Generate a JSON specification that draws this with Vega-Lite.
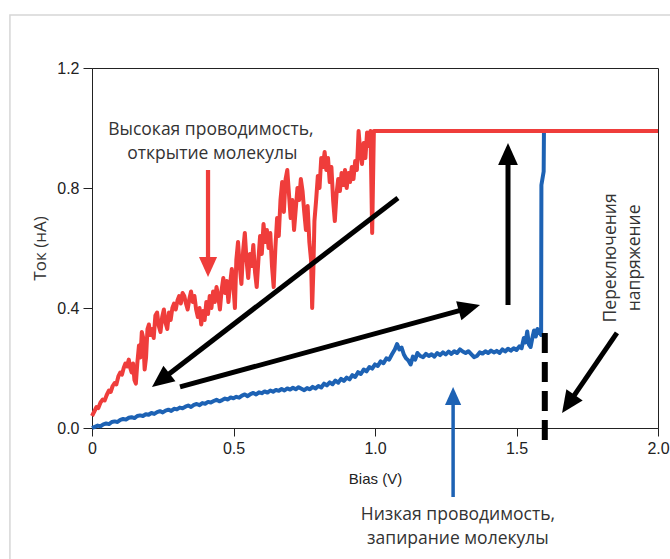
{
  "$schema": "https://vega.github.io/schema/vega-lite/v6.json",
  "width": 566,
  "height": 360,
  "autosize": {"type": "none"},
  "padding": {"left": 92, "top": 68, "right": 12, "bottom": 131},
  "background": "white",
  "config": {"view": {"stroke": "#222", "strokeWidth": 1}},
  "datasets": {
    "frame": [{"x": -0.29, "y": 1.377, "x2": 2.1, "y2": -0.5}],
    "red": [
      {"x":0.000,"y":0.040},{"x":0.008,"y":0.055},{"x":0.016,"y":0.070},{"x":0.022,"y":0.066},{"x":0.030,"y":0.085},
      {"x":0.038,"y":0.095},{"x":0.045,"y":0.092},{"x":0.052,"y":0.110},{"x":0.060,"y":0.125},{"x":0.066,"y":0.120},
      {"x":0.073,"y":0.140},{"x":0.080,"y":0.150},{"x":0.086,"y":0.145},{"x":0.093,"y":0.172},{"x":0.100,"y":0.185},
      {"x":0.106,"y":0.178},{"x":0.112,"y":0.200},{"x":0.118,"y":0.215},{"x":0.124,"y":0.205},{"x":0.130,"y":0.228},
      {"x":0.135,"y":0.200},{"x":0.140,"y":0.185},{"x":0.145,"y":0.215},{"x":0.150,"y":0.160},{"x":0.155,"y":0.148},
      {"x":0.160,"y":0.215},{"x":0.166,"y":0.275},{"x":0.171,"y":0.235},{"x":0.176,"y":0.320},{"x":0.181,"y":0.300},
      {"x":0.186,"y":0.195},{"x":0.191,"y":0.235},{"x":0.196,"y":0.330},{"x":0.201,"y":0.345},{"x":0.206,"y":0.310},
      {"x":0.212,"y":0.330},{"x":0.218,"y":0.300},{"x":0.224,"y":0.375},{"x":0.230,"y":0.385},{"x":0.236,"y":0.340},
      {"x":0.242,"y":0.320},{"x":0.248,"y":0.370},{"x":0.254,"y":0.395},{"x":0.260,"y":0.350},{"x":0.266,"y":0.330},
      {"x":0.272,"y":0.385},{"x":0.278,"y":0.360},{"x":0.284,"y":0.400},{"x":0.290,"y":0.415},{"x":0.296,"y":0.395},
      {"x":0.302,"y":0.425},{"x":0.308,"y":0.440},{"x":0.314,"y":0.415},{"x":0.320,"y":0.450},{"x":0.326,"y":0.440},
      {"x":0.332,"y":0.415},{"x":0.338,"y":0.395},{"x":0.344,"y":0.430},{"x":0.350,"y":0.455},{"x":0.356,"y":0.420},
      {"x":0.362,"y":0.440},{"x":0.368,"y":0.395},{"x":0.374,"y":0.370},{"x":0.380,"y":0.400},{"x":0.386,"y":0.345},
      {"x":0.392,"y":0.390},{"x":0.398,"y":0.360},{"x":0.404,"y":0.420},{"x":0.410,"y":0.380},{"x":0.416,"y":0.440},
      {"x":0.422,"y":0.400},{"x":0.428,"y":0.455},{"x":0.434,"y":0.420},{"x":0.440,"y":0.470},{"x":0.446,"y":0.440},
      {"x":0.452,"y":0.395},{"x":0.458,"y":0.460},{"x":0.464,"y":0.500},{"x":0.470,"y":0.450},{"x":0.476,"y":0.490},
      {"x":0.482,"y":0.420},{"x":0.488,"y":0.480},{"x":0.494,"y":0.530},{"x":0.500,"y":0.470},{"x":0.505,"y":0.400},
      {"x":0.510,"y":0.560},{"x":0.516,"y":0.620},{"x":0.522,"y":0.540},{"x":0.528,"y":0.480},{"x":0.534,"y":0.590},
      {"x":0.540,"y":0.650},{"x":0.546,"y":0.560},{"x":0.552,"y":0.500},{"x":0.558,"y":0.580},{"x":0.564,"y":0.540},
      {"x":0.570,"y":0.610},{"x":0.576,"y":0.520},{"x":0.582,"y":0.470},{"x":0.588,"y":0.560},{"x":0.594,"y":0.640},
      {"x":0.600,"y":0.580},{"x":0.606,"y":0.680},{"x":0.612,"y":0.620},{"x":0.618,"y":0.660},{"x":0.624,"y":0.600},
      {"x":0.630,"y":0.650},{"x":0.636,"y":0.540},{"x":0.642,"y":0.470},{"x":0.648,"y":0.600},{"x":0.654,"y":0.700},
      {"x":0.660,"y":0.640},{"x":0.666,"y":0.760},{"x":0.672,"y":0.820},{"x":0.678,"y":0.720},{"x":0.684,"y":0.830},
      {"x":0.690,"y":0.860},{"x":0.696,"y":0.780},{"x":0.702,"y":0.700},{"x":0.708,"y":0.760},{"x":0.714,"y":0.660},
      {"x":0.720,"y":0.730},{"x":0.726,"y":0.800},{"x":0.732,"y":0.760},{"x":0.738,"y":0.830},{"x":0.744,"y":0.790},
      {"x":0.750,"y":0.720},{"x":0.756,"y":0.660},{"x":0.762,"y":0.740},{"x":0.768,"y":0.620},{"x":0.774,"y":0.560},
      {"x":0.778,"y":0.400},{"x":0.782,"y":0.520},{"x":0.786,"y":0.690},{"x":0.792,"y":0.760},{"x":0.798,"y":0.840},
      {"x":0.804,"y":0.800},{"x":0.810,"y":0.900},{"x":0.816,"y":0.870},{"x":0.822,"y":0.920},{"x":0.828,"y":0.860},
      {"x":0.834,"y":0.900},{"x":0.840,"y":0.820},{"x":0.846,"y":0.870},{"x":0.852,"y":0.760},{"x":0.858,"y":0.690},
      {"x":0.864,"y":0.780},{"x":0.870,"y":0.830},{"x":0.876,"y":0.790},{"x":0.882,"y":0.850},{"x":0.888,"y":0.810},
      {"x":0.894,"y":0.860},{"x":0.900,"y":0.800},{"x":0.906,"y":0.850},{"x":0.912,"y":0.820},{"x":0.918,"y":0.870},
      {"x":0.924,"y":0.830},{"x":0.930,"y":0.890},{"x":0.936,"y":0.860},{"x":0.942,"y":0.990},{"x":0.948,"y":0.920},
      {"x":0.954,"y":0.880},{"x":0.960,"y":0.950},{"x":0.966,"y":0.900},{"x":0.972,"y":0.985},{"x":0.978,"y":0.940},
      {"x":0.984,"y":0.990},{"x":0.990,"y":0.650},{"x":0.996,"y":0.990},{"x":2.000,"y":0.990}
    ],
    "blue": [
      {"x":0.000,"y":0.000},{"x":0.010,"y":0.004},{"x":0.020,"y":0.008},{"x":0.030,"y":0.006},{"x":0.040,"y":0.012},
      {"x":0.050,"y":0.015},{"x":0.060,"y":0.013},{"x":0.070,"y":0.020},{"x":0.080,"y":0.022},{"x":0.090,"y":0.020},
      {"x":0.100,"y":0.027},{"x":0.110,"y":0.030},{"x":0.120,"y":0.028},{"x":0.130,"y":0.034},{"x":0.140,"y":0.036},
      {"x":0.150,"y":0.033},{"x":0.160,"y":0.040},{"x":0.170,"y":0.042},{"x":0.180,"y":0.040},{"x":0.190,"y":0.046},
      {"x":0.200,"y":0.044},{"x":0.210,"y":0.050},{"x":0.220,"y":0.047},{"x":0.230,"y":0.053},{"x":0.240,"y":0.056},
      {"x":0.250,"y":0.052},{"x":0.260,"y":0.058},{"x":0.270,"y":0.061},{"x":0.280,"y":0.057},{"x":0.290,"y":0.064},
      {"x":0.300,"y":0.062},{"x":0.310,"y":0.068},{"x":0.320,"y":0.066},{"x":0.330,"y":0.071},{"x":0.340,"y":0.075},
      {"x":0.350,"y":0.070},{"x":0.360,"y":0.077},{"x":0.370,"y":0.080},{"x":0.380,"y":0.076},{"x":0.390,"y":0.083},
      {"x":0.400,"y":0.081},{"x":0.410,"y":0.087},{"x":0.420,"y":0.085},{"x":0.430,"y":0.090},{"x":0.440,"y":0.094},
      {"x":0.450,"y":0.089},{"x":0.460,"y":0.093},{"x":0.470,"y":0.098},{"x":0.480,"y":0.095},{"x":0.490,"y":0.102},
      {"x":0.500,"y":0.099},{"x":0.510,"y":0.104},{"x":0.520,"y":0.101},{"x":0.530,"y":0.108},{"x":0.540,"y":0.112},
      {"x":0.550,"y":0.106},{"x":0.560,"y":0.113},{"x":0.570,"y":0.117},{"x":0.580,"y":0.112},{"x":0.590,"y":0.119},
      {"x":0.600,"y":0.116},{"x":0.610,"y":0.122},{"x":0.620,"y":0.118},{"x":0.630,"y":0.125},{"x":0.640,"y":0.121},
      {"x":0.650,"y":0.127},{"x":0.660,"y":0.124},{"x":0.670,"y":0.130},{"x":0.680,"y":0.125},{"x":0.690,"y":0.132},
      {"x":0.700,"y":0.128},{"x":0.710,"y":0.134},{"x":0.720,"y":0.129},{"x":0.730,"y":0.136},{"x":0.740,"y":0.131},
      {"x":0.750,"y":0.126},{"x":0.760,"y":0.133},{"x":0.770,"y":0.129},{"x":0.780,"y":0.137},{"x":0.790,"y":0.132},
      {"x":0.800,"y":0.140},{"x":0.810,"y":0.135},{"x":0.820,"y":0.148},{"x":0.830,"y":0.142},{"x":0.840,"y":0.152},
      {"x":0.850,"y":0.146},{"x":0.860,"y":0.158},{"x":0.870,"y":0.151},{"x":0.880,"y":0.164},{"x":0.890,"y":0.157},
      {"x":0.900,"y":0.168},{"x":0.910,"y":0.162},{"x":0.920,"y":0.176},{"x":0.930,"y":0.170},{"x":0.940,"y":0.186},
      {"x":0.950,"y":0.180},{"x":0.960,"y":0.195},{"x":0.970,"y":0.189},{"x":0.980,"y":0.203},{"x":0.990,"y":0.198},
      {"x":1.000,"y":0.212},{"x":1.010,"y":0.207},{"x":1.020,"y":0.222},{"x":1.030,"y":0.216},{"x":1.040,"y":0.232},
      {"x":1.050,"y":0.228},{"x":1.060,"y":0.246},{"x":1.070,"y":0.262},{"x":1.078,"y":0.280},{"x":1.086,"y":0.262},
      {"x":1.094,"y":0.268},{"x":1.102,"y":0.245},{"x":1.110,"y":0.232},{"x":1.118,"y":0.225},{"x":1.126,"y":0.212},
      {"x":1.134,"y":0.238},{"x":1.142,"y":0.228},{"x":1.150,"y":0.250},{"x":1.160,"y":0.240},{"x":1.170,"y":0.236},
      {"x":1.180,"y":0.247},{"x":1.190,"y":0.240},{"x":1.200,"y":0.246},{"x":1.210,"y":0.238},{"x":1.220,"y":0.250},
      {"x":1.230,"y":0.243},{"x":1.240,"y":0.252},{"x":1.250,"y":0.245},{"x":1.260,"y":0.255},{"x":1.270,"y":0.247},
      {"x":1.280,"y":0.256},{"x":1.290,"y":0.250},{"x":1.300,"y":0.262},{"x":1.310,"y":0.255},{"x":1.320,"y":0.250},
      {"x":1.330,"y":0.256},{"x":1.340,"y":0.246},{"x":1.350,"y":0.236},{"x":1.360,"y":0.240},{"x":1.370,"y":0.252},
      {"x":1.380,"y":0.248},{"x":1.390,"y":0.256},{"x":1.400,"y":0.250},{"x":1.410,"y":0.258},{"x":1.420,"y":0.252},
      {"x":1.430,"y":0.257},{"x":1.440,"y":0.250},{"x":1.450,"y":0.262},{"x":1.460,"y":0.255},{"x":1.470,"y":0.264},
      {"x":1.480,"y":0.258},{"x":1.490,"y":0.266},{"x":1.500,"y":0.260},{"x":1.510,"y":0.272},{"x":1.518,"y":0.266},
      {"x":1.526,"y":0.300},{"x":1.532,"y":0.285},{"x":1.538,"y":0.322},{"x":1.544,"y":0.278},{"x":1.550,"y":0.270},
      {"x":1.556,"y":0.300},{"x":1.562,"y":0.325},{"x":1.568,"y":0.305},{"x":1.574,"y":0.330},{"x":1.580,"y":0.318},
      {"x":1.587,"y":0.310},{"x":1.588,"y":0.810},{"x":1.596,"y":0.855},{"x":1.597,"y":0.990}
    ],
    "dash": [{"x": 1.6, "y": 0.317, "x2": 1.6, "y2": -0.047}],
    "shafts": [
      {"x": 1.081, "y": 0.767, "x2": 0.240, "y2": 0.157, "kind": "black"},
      {"x": 0.311, "y": 0.137, "x2": 1.337, "y2": 0.401, "kind": "black"},
      {"x": 1.470, "y": 0.410, "x2": 1.470, "y2": 0.917, "kind": "black"},
      {"x": 1.855, "y": 0.317, "x2": 1.681, "y2": 0.077, "kind": "black"},
      {"x": 1.276, "y": -0.230, "x2": 1.276, "y2": 0.103, "kind": "blue"},
      {"x": 0.410, "y": 0.860, "x2": 0.410, "y2": 0.537, "kind": "red"}
    ],
    "heads": [
      {"x": 0.212, "y": 0.137, "dir": 232.5, "kind": "black"},
      {"x": 1.371, "y": 0.410, "dir": 74.7, "kind": "black"},
      {"x": 1.470, "y": 0.950, "dir": 0, "kind": "black"},
      {"x": 1.661, "y": 0.050, "dir": 214.5, "kind": "black"},
      {"x": 1.276, "y": 0.137, "dir": 0, "kind": "blue"},
      {"x": 0.410, "y": 0.503, "dir": 180, "kind": "red"}
    ],
    "labels": [
      {"x": 0.42, "y": 0.995, "text": "Высокая проводимость,", "orient": "h"},
      {"x": 0.425, "y": 0.915, "text": "открытие молекулы", "orient": "h"},
      {"x": 1.293, "y": -0.29, "text": "Низкая проводимость,", "orient": "h"},
      {"x": 1.293, "y": -0.37, "text": "запирание молекулы", "orient": "h"},
      {"x": 1.834, "y": 0.567, "text": "Переключения", "orient": "v"},
      {"x": 1.919, "y": 0.567, "text": "напряжение", "orient": "v"}
    ]
  },
  "encoding": {
    "x": {
      "field": "x", "type": "quantitative",
      "scale": {"domain": [0, 2], "nice": false, "zero": false},
      "axis": {
        "title": "Bias (V)", "values": [0, 0.5, 1, 1.5, 2],
        "labelExpr": "datum.value == 0 ? '0' : format(datum.value, '.1f')",
        "grid": false, "tickSize": 8, "labelPadding": 4, "labelFlush": false,
        "labelFont": "Liberation Sans", "labelFontSize": 16, "labelColor": "#222",
        "titleFont": "Liberation Sans", "titleFontSize": 15, "titleFontWeight": "normal", "titleColor": "#222",
        "titleY": 50, "titleBaseline": "middle",
        "domainColor": "#222", "tickColor": "#222"
      }
    },
    "y": {
      "field": "y", "type": "quantitative",
      "scale": {"domain": [0, 1.2], "nice": false, "zero": false},
      "axis": {
        "title": "Ток (нА)", "values": [0, 0.4, 0.8, 1.2],
        "labelExpr": "format(datum.value, '.1f')",
        "grid": false, "tickSize": 9, "labelPadding": 4, "labelFlush": false,
        "labelFont": "Liberation Sans", "labelFontSize": 16, "labelColor": "#222",
        "titleFont": "Open Sans", "titleFontSize": 17, "titleFontWeight": "normal", "titleColor": "#333",
        "titleX": -52, "titleY": 180, "titleAngle": 270, "titleAlign": "center", "titleBaseline": "middle",
        "domainColor": "#222", "tickColor": "#222"
      }
    }
  },
  "layer": [
    {
      "data": {"name": "frame"},
      "mark": {"type": "rect", "fill": null, "fillOpacity": 0, "stroke": "#d6d6d6", "strokeWidth": 1.5},
      "encoding": {"x2": {"field": "x2"}, "y2": {"field": "y2"}}
    },
    {
      "data": {"name": "blue"},
      "mark": {"type": "line", "color": "#1d62b4", "strokeWidth": 4, "strokeJoin": "round"},
      "encoding": {}
    },
    {
      "data": {"name": "red"},
      "mark": {"type": "line", "color": "#ef3d3b", "strokeWidth": 4, "strokeJoin": "round"},
      "encoding": {}
    },
    {
      "data": {"name": "dash"},
      "mark": {"type": "rule", "color": "#000", "strokeWidth": 6, "strokeDash": [20, 9]},
      "encoding": {"x2": {"field": "x2"}, "y2": {"field": "y2"}}
    },
    {
      "data": {"name": "shafts"},
      "mark": {"type": "rule", "strokeCap": "butt"},
      "encoding": {
        "x2": {"field": "x2"}, "y2": {"field": "y2"},
        "color": {"field": "kind", "type": "nominal", "scale": {"domain": ["black", "red", "blue"], "range": ["#000000", "#ef3d3b", "#1d62b4"]}, "legend": null},
        "strokeWidth": {"field": "kind", "type": "ordinal", "scale": {"domain": ["black", "red", "blue"], "range": [5, 3.5, 4.5]}, "legend": null}
      }
    },
    {
      "data": {"name": "heads"},
      "mark": {"type": "point", "shape": "M0,0L-0.45,1L0.45,1Z", "filled": true, "opacity": 1, "strokeWidth": 0},
      "encoding": {
        "angle": {"field": "dir", "type": "quantitative", "scale": null},
        "color": {"field": "kind", "type": "nominal", "scale": {"domain": ["black", "red", "blue"], "range": ["#000000", "#ef3d3b", "#1d62b4"]}, "legend": null},
        "size": {"field": "kind", "type": "ordinal", "scale": {"domain": ["black", "red", "blue"], "range": [1936, 1296, 1936]}, "legend": null}
      }
    },
    {
      "data": {"name": "labels"},
      "transform": [{"filter": "datum.orient == 'h'"}],
      "mark": {"type": "text", "font": "Open Sans", "fontSize": 17.5, "color": "#333", "align": "center", "baseline": "middle"},
      "encoding": {"text": {"field": "text"}}
    },
    {
      "data": {"name": "labels"},
      "transform": [{"filter": "datum.orient == 'v'"}],
      "mark": {"type": "text", "font": "Open Sans", "fontSize": 17.5, "color": "#333", "align": "center", "baseline": "middle", "angle": 270},
      "encoding": {"text": {"field": "text"}}
    }
  ]
}
